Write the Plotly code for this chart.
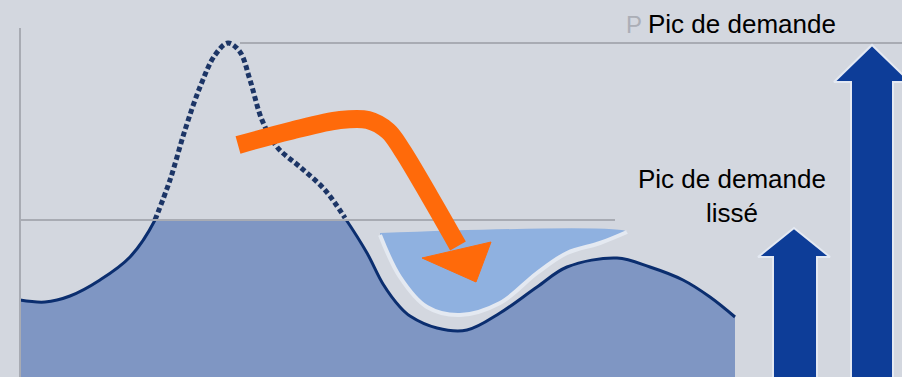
import plotly.graph_objects as go

# ---------------- data (chart units: x = time, y = demand level) ----------------
time = [20, 45, 70, 100, 130, 155, 170, 185, 200, 215, 228, 240, 250, 262, 277, 300,
        325, 345, 367, 383, 400, 410, 437, 467, 500, 537, 567, 617, 650, 683, 710, 735]
demand = [77, 75, 81, 97, 120, 157, 197, 247, 290, 322, 334, 325, 297, 257, 230, 210,
          187, 159, 124, 93, 70, 61, 49, 47, 64, 90, 110, 119, 110, 97, 80, 60]
smoothed_cap = 157          # level of the smoothed peak
peak_level = 334            # level of the raw demand peak
peak_start, peak_end = 5, 17  # indices where demand exceeds the smoothed cap

# demand shifted into the valley
shift_x = [380, 627, 600, 567, 537, 500, 460, 427, 400, 380]
shift_y = [144, 145, 134, 124, 104, 74, 62, 70, 100, 142]

# orange "shift" arrow (centre line and head)
move_x = [238, 290, 340, 368, 388, 402, 430, 458]
move_y = [232, 246, 257, 257, 246, 227, 180, 131]
move_head_x = [422, 491, 476, 422]
move_head_y = [119, 135, 95, 119]

# blue comparison arrows: raw peak (tall) and smoothed peak (short)
tall_arrow_x = [851, 851, 834, 872, 910, 893, 893, 851]
tall_arrow_y = [-5, 295, 295, 332, 295, 295, -5, -5]
short_arrow_x = [773, 773, 758, 794, 830, 817, 817, 773]
short_arrow_y = [-5, 120, 120, 149, 120, 120, -5, -5]

label_peak = "Pic de demande"
label_smoothed = "Pic de demande<br>lissé"

# ---------------- styles ----------------
BG = "#D3D7DF"
FILL = "#7F96C3"
NAVY = "#0B2E6F"
DOT = "#1C3566"
LIGHT = "#8FB1E0"
GRID = "#A8ABB3"
ORANGE = "#FF6A0A"
BLUE = "#0D3D98"
W, H = 902, 377
FONT = "Liberation Sans, Arial"

fig = go.Figure()

# area under the smoothed demand
fig.add_trace(go.Scatter(x=time, y=demand, mode="lines", line=dict(shape="spline", width=0, color=FILL),
                         fill="tozeroy", fillcolor=FILL, hoverinfo="skip"))
# solid demand curve
fig.add_trace(go.Scatter(x=time, y=demand, mode="lines", line=dict(shape="spline", width=3, color=NAVY),
                         hoverinfo="skip"))
# mask above the smoothed cap
fig.add_trace(go.Scatter(x=[0, W, W, 0, 0], y=[smoothed_cap, smoothed_cap, H + 5, H + 5, smoothed_cap],
                         mode="lines", line=dict(width=0), fill="toself", fillcolor=BG, hoverinfo="skip"))
# dotted raw peak (only the part above the cap)
fig.add_trace(go.Scatter(x=time[peak_start:peak_end + 1], y=demand[peak_start:peak_end + 1], mode="lines",
                         line=dict(shape="spline", width=5, color=DOT, dash="5px,3px"), hoverinfo="skip"))

# shifted demand region
fig.add_trace(go.Scatter(x=shift_x, y=shift_y, mode="lines", line=dict(width=0, shape="spline"),
                         fill="toself", fillcolor=LIGHT, hoverinfo="skip"))
fig.add_trace(go.Scatter(x=shift_x[1:], y=shift_y[1:], mode="lines",
                         line=dict(width=4, shape="spline", color="#E4E9F1"), hoverinfo="skip"))

# reference lines
fig.add_trace(go.Scatter(x=[20, 615], y=[smoothed_cap, smoothed_cap], mode="lines",
                         line=dict(width=2, color=GRID), hoverinfo="skip"))
fig.add_trace(go.Scatter(x=[240, W], y=[peak_level, peak_level], mode="lines",
                         line=dict(width=2, color=GRID), hoverinfo="skip"))
fig.add_trace(go.Scatter(x=[20, 20], y=[0, 349], mode="lines",
                         line=dict(width=2, color=GRID), hoverinfo="skip"))

# orange arrow
fig.add_trace(go.Scatter(x=move_x, y=move_y, mode="lines",
                         line=dict(width=18, shape="spline", color=ORANGE), hoverinfo="skip"))
fig.add_trace(go.Scatter(x=move_head_x, y=move_head_y, mode="lines", line=dict(width=1, color=ORANGE),
                         fill="toself", fillcolor=ORANGE, hoverinfo="skip"))

# blue arrows
for ax, ay in [(tall_arrow_x, tall_arrow_y), (short_arrow_x, short_arrow_y)]:
    fig.add_trace(go.Scatter(x=ax, y=ay, mode="lines", line=dict(width=2, color="#E4E9F2"),
                             fill="toself", fillcolor=BLUE, hoverinfo="skip"))

# labels
fig.add_annotation(x=634, y=353, text="P", showarrow=False, xanchor="center", yanchor="middle",
                   font=dict(family=FONT, size=24, color="#ABAEB6"))
fig.add_annotation(x=742, y=353, text=label_peak, showarrow=False, xanchor="center", yanchor="middle",
                   font=dict(family=FONT, size=26, color="#000000"))
fig.add_annotation(x=732, y=181, text=label_smoothed, showarrow=False, xanchor="center", yanchor="middle",
                   font=dict(family=FONT, size=26, color="#000000"))

fig.update_layout(
    width=W, height=H, margin=dict(l=0, r=0, t=0, b=0),
    paper_bgcolor=BG, plot_bgcolor=BG, showlegend=False,
    xaxis=dict(range=[0, W], visible=False, fixedrange=True),
    yaxis=dict(range=[0, H], visible=False, fixedrange=True),
)

fig.write_html("out.html", config={"displayModeBar": False})
